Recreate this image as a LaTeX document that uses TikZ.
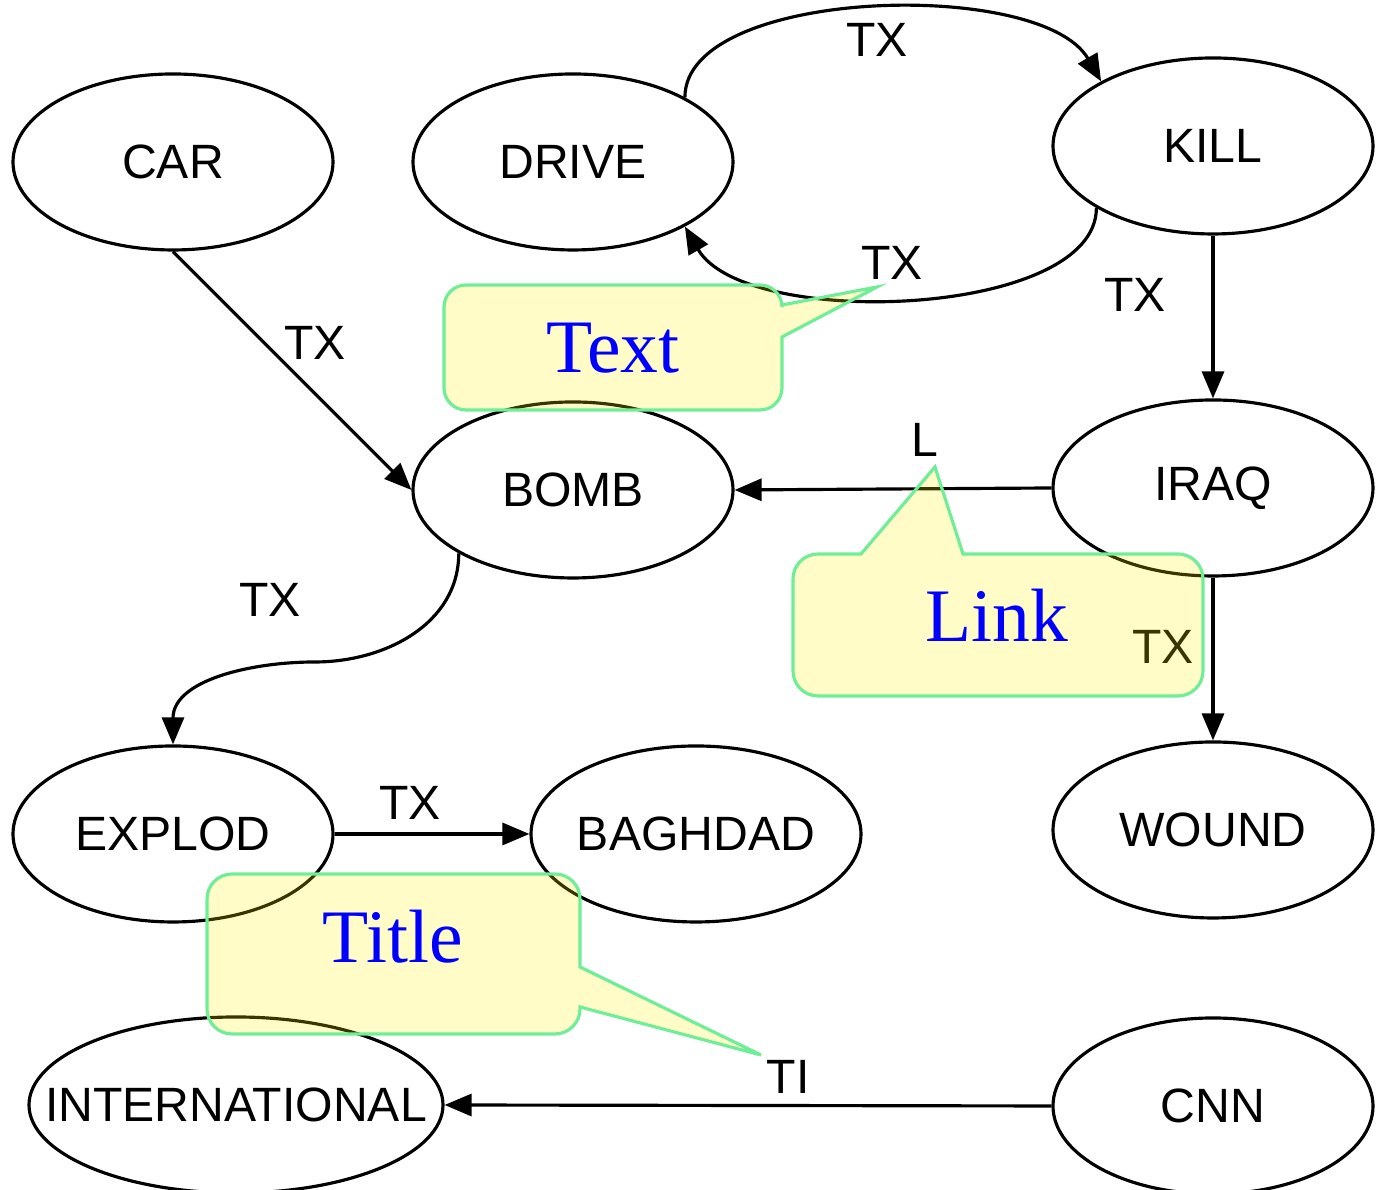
\documentclass[tikz,border=0pt]{standalone}
\usepackage{fontspec}
\setmainfont{Liberation Sans}
\newfontfamily\notefont{Liberation Serif}
\usepackage{xcolor}
\usepackage{tikz}
\usetikzlibrary{shapes.geometric,arrows.meta}
\definecolor{noteline}{RGB}{110,238,150}

\begin{document}
\begin{tikzpicture}[
	word/.style={ellipse,draw,line width=0.9pt,minimum width=3.2cm,minimum height=1.76cm,inner xsep=-1cm,inner ysep=0pt,font=\fontsize{13.7}{16}\selectfont},
	rel/.style={-{Triangle[length=0.27cm,width=0.22cm]},line width=0.9pt},
	lbl/.style={inner sep=0pt,font=\fontsize{13.7}{16}\selectfont},
	note/.style={draw=noteline,line width=0.9pt,fill=yellow,fill opacity=0.22,draw opacity=1},
	notetext/.style={text=blue,inner sep=0pt,font=\notefont\fontsize{21.5}{24}\selectfont}
]
	\useasboundingbox (0,0) rectangle (13.82,11.90);
	%
	\node[word] (car) at (1.73,10.28) {CAR};
	\node[word] (drive) at (5.73,10.28) {DRIVE};
	\node[word] (kill) at (12.13,10.44) {KILL};
	\node[word] (bomb) at (5.73,7.00) {BOMB};
	\node[word] (iraq) at (12.13,7.02) {IRAQ};
	\node[word] (explod) at (1.73,3.56) {EXPLOD};
	\node[word,minimum width=3.3cm] (baghdad) at (6.96,3.56) {BAGHDAD};
	\node[word] (wound) at (12.13,3.60) {WOUND};
	\node[word,minimum width=4.14cm] (intl) at (2.36,0.85) {INTERNATIONAL};
	\node[word] (cnn) at (12.13,0.84) {CNN};
	\coordinate (bend) at (3.15,5.28);
	%
	\draw[rel] (car.south) -- (bomb.west);
	\draw[rel] (drive.30) .. controls +(90:1.1) and +(120:1.2) .. (kill.150);
	\draw[rel] (kill.208) .. controls +(270:1.1) and +(-60:1.2) .. (drive.-30);
	\draw[rel] (kill.south) -- (iraq.north);
	\draw[rel] (iraq.west) -- (bomb.east);
	\draw[rel] (iraq.south) -- (wound.north);
	\draw[rel] (bomb.209) to[out=270,in=0] (bend) to[out=180,in=90] (explod.north);
	\draw[rel] (explod.east) -- (baghdad.west);
	\draw[rel] (cnn.west) -- (intl.east);
	%
	\node[lbl] (txcb) at (3.15,8.47) {TX};
	\node[lbl] (txdk) at (8.77,11.50) {TX};
	\node[lbl] (txkd) at (8.92,9.27) {TX};
	\node[lbl] (txki) at (11.35,8.95) {TX};
	\node[lbl] (lib) at (9.25,7.50) {L};
	\node[lbl] (txiw) at (11.63,5.43) {TX};
	\node[lbl] (txbe) at (2.70,5.90) {TX};
	\node[lbl] (txeb) at (4.10,3.87) {TX};
	\node[lbl] (tici) at (7.88,1.13) {TI};
	%
	\draw[note] (4.44,8.40) [rounded corners=0.22cm] -- (4.44,9.05) -- (7.82,9.05) [sharp corners] -- (7.82,8.85) -- (8.77,9.03) -- (7.82,8.53) [rounded corners=0.22cm] -- (7.82,7.80) -- (4.44,7.80) -- cycle;
	\draw[note] (7.93,5.60) [rounded corners=0.25cm] -- (7.93,6.36) [sharp corners] -- (8.61,6.36) -- (9.35,7.23) -- (9.63,6.36) [rounded corners=0.25cm] -- (12.03,6.36) -- (12.03,4.94) -- (7.93,4.94) -- cycle;
	\draw[note] (2.07,2.40) [rounded corners=0.25cm] -- (2.07,3.16) -- (5.80,3.16) [sharp corners] -- (5.80,2.23) -- (7.61,1.35) -- (5.80,1.83) [rounded corners=0.25cm] -- (5.80,1.56) -- (2.07,1.56) -- cycle;
	\node[notetext] (textnote) at (6.13,8.42) {Text};
	\node[notetext] (linknote) at (9.97,5.75) {Link};
	\node[notetext] (titlenote) at (3.93,2.53) {Title};
\end{tikzpicture}
\end{document}
